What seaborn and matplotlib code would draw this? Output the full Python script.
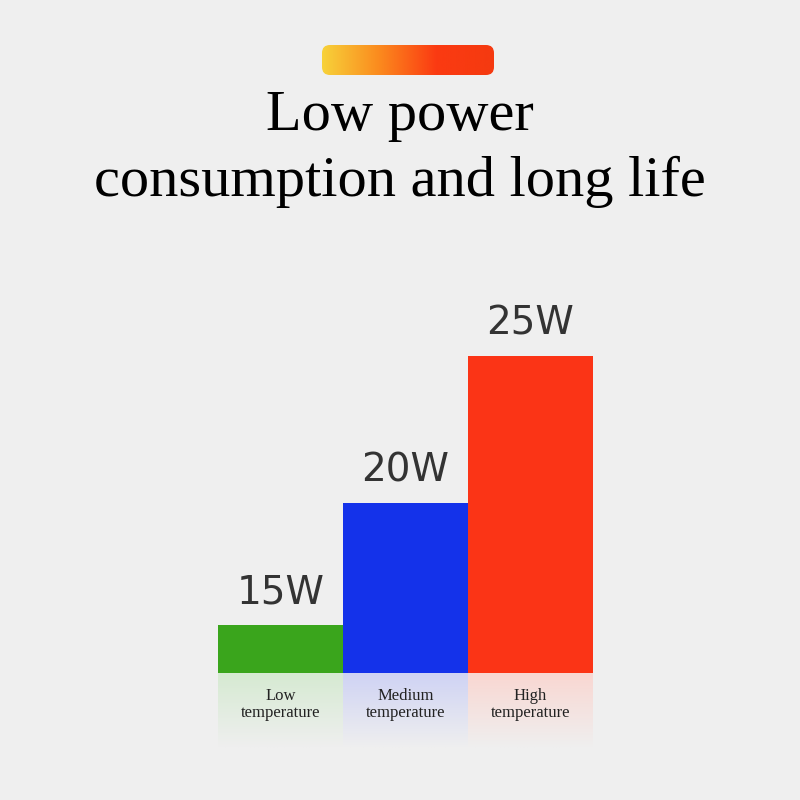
import matplotlib
matplotlib.use("Agg")
import matplotlib.pyplot as plt
import numpy as np
import pandas as pd
import seaborn as sns
from matplotlib.colors import LinearSegmentedColormap
from matplotlib.patches import FancyBboxPatch

categories = ["Low\ntemperature", "Medium\ntemperature", "High\ntemperature"]
watt_labels = ["15W", "20W", "25W"]
bar_heights = [48, 170, 317]  # visual height
colours = ["#3aa51c", "#1432ea", "#fb3416"]
fade_colours = ["#d6ead2", "#cfd3f4", "#f9d7d2"]

BG = "#efefef"
sns.set_theme(style="white")
plt.rcParams["font.family"] = ["DejaVu Sans"]

fig = plt.figure(figsize=(8, 8), dpi=100, facecolor=BG)

# gradient pill at top
pill = fig.add_axes([322 / 800, 1 - 75 / 800, 172 / 800, 30 / 800])
cmap = LinearSegmentedColormap.from_list("flame", ["#f7d23a", "#fb8a1e", "#fb3a12", "#f53a10"])
im = pill.imshow(np.linspace(0, 1, 256)[None, :], aspect="auto", cmap=cmap,
                 extent=(0, 172, 0, 30))
clip = FancyBboxPatch((0, 0), 172, 30, boxstyle="round,pad=0,rounding_size=8",
                      transform=pill.transData, facecolor="none", edgecolor="none")
pill.add_patch(clip)
im.set_clip_path(clip)
pill.axis("off")

fig.text(0.5, 1 - 116 / 800, "Low power", ha="center", va="center",
         fontsize=42, family="Liberation Serif", color="black")
fig.text(0.5, 1 - 182 / 800, "consumption and long life", ha="center", va="center",
         fontsize=42, family="Liberation Serif", color="black")

# bars
df = pd.DataFrame({"cat": categories, "h": bar_heights})
top_px = 280
ax = fig.add_axes([218 / 800, 1 - 673 / 800, 375 / 800, (673 - top_px) / 800])
sns.barplot(data=df, x="cat", y="h", hue="cat", palette=colours, width=1.0,
            legend=False, ax=ax, saturation=1, linewidth=0)
ax.set_xlim(-0.5, 2.5)
ax.set_ylim(0, 673 - top_px)
ax.axis("off")
for i, (h, lab) in enumerate(zip(bar_heights, watt_labels)):
    ax.text(i, h + 14, lab, ha="center", va="bottom", fontsize=28, color="#333333")

# faded reflections with labels
ref = fig.add_axes([218 / 800, 1 - 748 / 800, 375 / 800, 75 / 800])
for i, c in enumerate(fade_colours):
    grad = LinearSegmentedColormap.from_list("f", [c, BG])
    ref.imshow(np.linspace(0, 1, 64)[:, None], aspect="auto", cmap=grad,
               extent=(i - 0.5, i + 0.5, 1, 0))
    ref.text(i, 0.42, categories[i], ha="center", va="center", fontsize=12,
             family="Liberation Serif", color="#222222", linespacing=1.1)
ref.set_xlim(-0.5, 2.5)
ref.set_ylim(1, 0)
ref.axis("off")

fig.savefig("out.png", dpi=100, facecolor=BG)
